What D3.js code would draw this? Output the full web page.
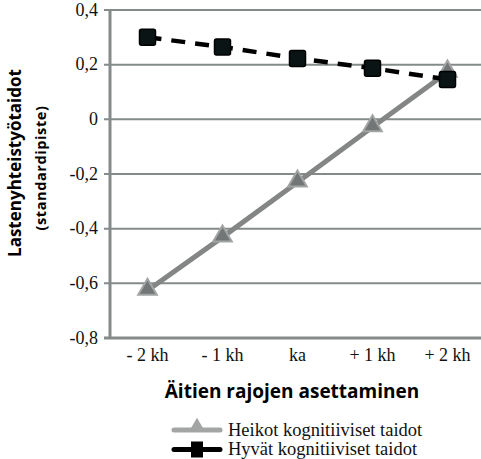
<!DOCTYPE html>
<html>
<head>
<meta charset="utf-8">
<script src="https://cdn.jsdelivr.net/npm/d3@7"></script>
</head>
<body style="margin:0; background:#fff">
<svg></svg>
<script>
// chart data
var categories = ["- 2 kh", "- 1 kh", "ka", "+ 1 kh", "+ 2 kh"]
var heikot = [-0.626, -0.431, -0.230, -0.028, 0.172]
var hyvat = [0.300, 0.265, 0.223, 0.187, 0.146]
var yTicks = [0.4, 0.2, 0, -0.2, -0.4, -0.6, -0.8]
var seriesNames = ["Heikot kognitiiviset taidot", "Hyvät kognitiiviset taidot"]

var screen = {width: 481, height: 459}
var margins = {top: 10, left: 110}
var width = 375
var height = 328
var serif = "'Liberation Serif'"
var sans = "'Open Sans'"

var svg = d3.select("svg")
    .attr("width", screen.width)
    .attr("height", screen.height)

var graph = svg.append("g")
    .attr("transform", "translate(" + margins.left + "," + margins.top + ")")

var xScale = d3.scaleBand()
    .domain(categories)
    .range([0, width])

var yScale = d3.scaleLinear()
    .domain([-0.8, 0.4])
    .range([height, 0])

var fmt = function(d) { return d == 0 ? "0" : d3.format(".1f")(d).replace(".", ",").replace("−", "-") }

// grid lines
graph.append("g")
    .selectAll("line")
    .data(yTicks)
    .enter()
    .append("line")
    .attr("x1", -6)
    .attr("x2", width)
    .attr("y1", function(d) { return yScale(d) })
    .attr("y2", function(d) { return yScale(d) })
    .attr("stroke", "#858a8a")
    .attr("stroke-width", 2)

// axis lines
graph.append("line")
    .attr("x1", 0).attr("x2", 0)
    .attr("y1", 0).attr("y2", height + 1)
    .attr("stroke", "#858a8a")
    .attr("stroke-width", 3)

graph.append("line")
    .attr("x1", -6).attr("x2", width)
    .attr("y1", height).attr("y2", height)
    .attr("stroke", "#858a8a")
    .attr("stroke-width", 3)

// y tick labels
graph.append("g")
    .selectAll("text")
    .data(yTicks)
    .enter()
    .append("text")
    .attr("x", -12)
    .attr("y", function(d) { return yScale(d) })
    .attr("dy", "0.32em")
    .attr("text-anchor", "end")
    .style("font-family", serif)
    .style("font-size", "18px")
    .attr("fill", "#111")
    .text(fmt)

// x tick labels
graph.append("g")
    .selectAll("text")
    .data(categories)
    .enter()
    .append("text")
    .attr("x", function(d) { return xScale(d) + xScale.bandwidth() / 2 })
    .attr("y", height + 23)
    .attr("text-anchor", "middle")
    .style("font-family", serif)
    .style("font-size", "18px")
    .attr("fill", "#111")
    .text(function(d) { return d })

// axis titles
svg.append("text")
    .attr("transform", "translate(21,163) rotate(-90)")
    .attr("text-anchor", "middle")
    .style("font-family", sans)
    .style("font-weight", "bold")
    .style("font-size", "17px")
    .text("Lastenyhteistyötaidot")

svg.append("text")
    .attr("transform", "translate(46,168) rotate(-90)")
    .attr("text-anchor", "middle")
    .style("font-family", sans)
    .style("font-weight", "bold")
    .style("font-size", "14.5px")
    .style("letter-spacing", "0.6px")
    .text("(standardipiste)")

svg.append("text")
    .attr("x", 292)
    .attr("y", 398)
    .attr("text-anchor", "middle")
    .style("font-family", sans)
    .style("font-weight", "bold")
    .style("font-size", "19px")
    .text("Äitien rajojen asettaminen")

var cx = function(d, i) { return xScale(categories[i]) + xScale.bandwidth() / 2 }

var lineGenerator = d3.line()
    .x(function(d, i) { return cx(d, i) })
    .y(function(d) { return yScale(d) })

var triangle = d3.symbol().type(d3.symbolTriangle).size(150)

// Heikot series
graph.append("path")
    .datum(heikot)
    .attr("d", lineGenerator)
    .attr("fill", "none")
    .attr("stroke", "#848686")
    .attr("stroke-width", 5)

graph.append("g")
    .selectAll("path")
    .data(heikot)
    .enter()
    .append("path")
    .attr("d", triangle)
    .attr("transform", function(d, i) { return "translate(" + cx(d, i) + "," + (yScale(d) - 1) + ")" })
    .attr("fill", "#727676")
    .attr("stroke", "#a3a5a5")
    .attr("stroke-width", 2)

// Hyvät series
graph.append("path")
    .datum(hyvat)
    .attr("d", lineGenerator)
    .attr("fill", "none")
    .attr("stroke", "#000")
    .attr("stroke-width", 4.5)
    .attr("stroke-dasharray", "14,10")

graph.append("g")
    .selectAll("rect")
    .data(hyvat)
    .enter()
    .append("rect")
    .attr("x", function(d, i) { return cx(d, i) - 8 })
    .attr("y", function(d) { return yScale(d) - 8 })
    .attr("width", 16)
    .attr("height", 16)
    .attr("rx", 2)
    .attr("fill", "#0a1414")
    .attr("stroke", "#000")
    .attr("stroke-width", 1.5)

// legend
var legend = svg.append("g").attr("transform", "translate(174,430)")

var items = legend.selectAll("g")
    .data(seriesNames)
    .enter()
    .append("g")
    .attr("transform", function(d, i) { return "translate(0," + (i * 19.5) + ")" })

items.append("line")
    .attr("x1", 0).attr("x2", 46)
    .attr("y1", 0).attr("y2", 0)
    .attr("stroke", function(d, i) { return i == 0 ? "#a3a5a5" : "#000" })
    .attr("stroke-width", 5)
    .attr("stroke-linecap", "round")

items.append("path")
    .attr("d", function(d, i) { return i == 0 ? d3.symbol().type(d3.symbolTriangle).size(110)() : "M-6,-8H6V8H-6Z" })
    .attr("transform", function(d, i) { return i == 0 ? "translate(23,-3)" : "translate(23,0)" })
    .attr("fill", function(d, i) { return i == 0 ? "#a3a5a5" : "#000" })

items.append("text")
    .attr("x", 54)
    .attr("y", 0)
    .attr("dy", "0.32em")
    .style("font-family", serif)
    .style("font-size", "18.5px")
    .attr("fill", "#111")
    .text(function(d) { return d })
</script>
</body>
</html>
